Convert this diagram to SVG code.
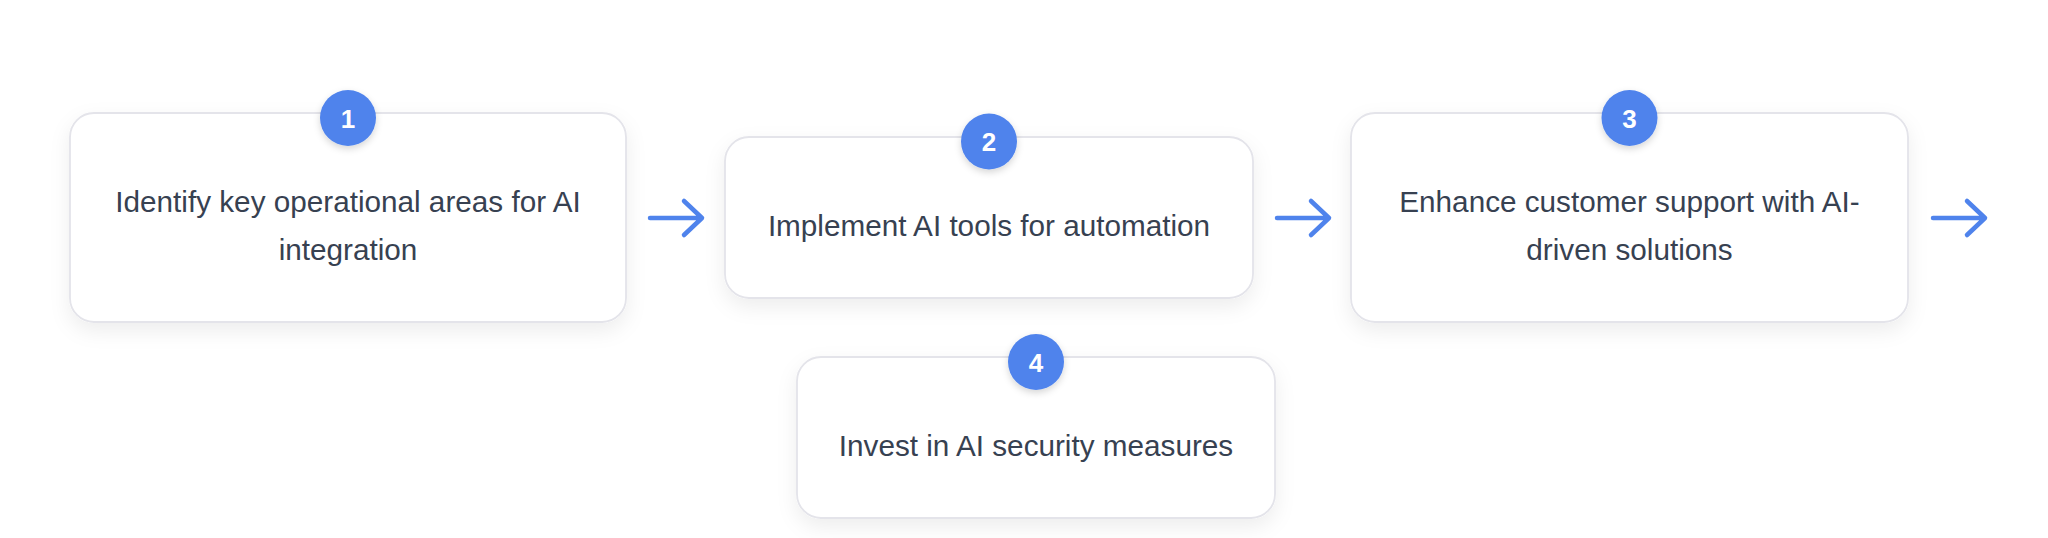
<svg xmlns="http://www.w3.org/2000/svg" width="2048" height="538" viewBox="0 0 2048 538">
<defs>
<filter id="cardShadow" x="-10%" y="-20%" width="120%" height="150%">
<feDropShadow dx="0" dy="8" stdDeviation="10" flood-color="#000000" flood-opacity="0.07"/>
</filter>
<filter id="badgeShadow" x="-50%" y="-50%" width="200%" height="200%">
<feDropShadow dx="0" dy="3" stdDeviation="3.5" flood-color="#000000" flood-opacity="0.16"/>
</filter>
<style>
.card{fill:#ffffff;stroke:#e4e4ea;stroke-width:1.8;filter:url(#cardShadow)}
.badge{fill:#4f83ec;filter:url(#badgeShadow)}
.num{font-family:"Liberation Sans",Arial,sans-serif;font-size:26px;font-weight:bold;fill:#ffffff;text-anchor:middle}
.label{font-family:"Liberation Sans",Arial,sans-serif;font-size:29.7px;fill:#374151;text-anchor:middle}
.arrow{fill:none;stroke:#4f83ec;stroke-width:4.5;stroke-linecap:round;stroke-linejoin:round}
</style>
</defs>
<rect width="2048" height="538" fill="#ffffff"/>
<g id="node1">
<rect class="card" x="70" y="113" width="556" height="209" rx="24"/>
<circle class="badge" cx="348" cy="118" r="28"/>
<text class="num" x="348" y="127.5">1</text>
<text class="label" x="348" y="212">Identify key operational areas for AI</text>
<text class="label" x="348" y="260">integration</text>
</g>
<g id="node2">
<rect class="card" x="725" y="137" width="528" height="161" rx="24"/>
<circle class="badge" cx="989" cy="141.5" r="28"/>
<text class="num" x="989" y="151">2</text>
<text class="label" x="989" y="236">Implement AI tools for automation</text>
</g>
<g id="node3">
<rect class="card" x="1351" y="113" width="557" height="209" rx="24"/>
<circle class="badge" cx="1629.5" cy="118" r="28"/>
<text class="num" x="1629.5" y="127.5">3</text>
<text class="label" x="1629.5" y="212">Enhance customer support with AI-</text>
<text class="label" x="1629.5" y="260">driven solutions</text>
</g>
<g id="node4">
<rect class="card" x="797" y="357" width="478" height="161" rx="24"/>
<circle class="badge" cx="1036" cy="362" r="28"/>
<text class="num" x="1036" y="371.5">4</text>
<text class="label" x="1036" y="456">Invest in AI security measures</text>
</g>
<g id="connectors">
<path class="arrow" d="M650 218 H702 M684 201 L702 218 L684 235"/>
<path class="arrow" d="M1277 218 H1329 M1311 201 L1329 218 L1311 235"/>
<path class="arrow" d="M1933 218 H1985 M1967 201 L1985 218 L1967 235"/>
</g>
</svg>
